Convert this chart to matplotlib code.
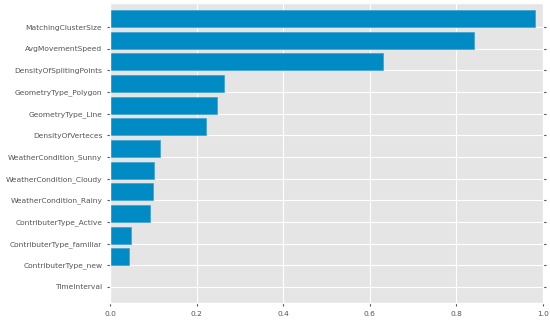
import numpy as np
import matplotlib
matplotlib.use('Agg')
import matplotlib.pyplot as plt

plt.style.use('ggplot')

# feature importances, bottom to top
features = ['TimeInterval', 'ContributerType_new', 'ContributerType_familiar',
            'ContributerType_Active', 'WeatherCondition_Rainy',
            'WeatherCondition_Cloudy', 'WeatherCondition_Sunny',
            'DensityOfVerteces', 'GeometryType_Line', 'GeometryType_Polygon',
            'DensityOfSplitingPoints', 'AvgMovementSpeed', 'MatchingClusterSize']
importance = [0.0, 0.043, 0.049, 0.092, 0.099, 0.102, 0.115,
              0.221, 0.247, 0.263, 0.630, 0.841, 0.982]
xticks = [0.0, 0.2, 0.4, 0.6, 0.8, 1.0]

fig = plt.figure(figsize=(5.5, 3.2), dpi=100)
ax = fig.add_axes([0.2, 0.053, 0.787, 0.937])

pos = np.arange(len(features))
ax.barh(pos, importance, height=0.78, align='edge', color='#008BC5',
        edgecolor='#3a9fd0', linewidth=0.5)
ax.set_yticks(pos)
ax.set_yticklabels(features)
ax.set_xticks(xticks)
ax.set_xlim(0, 1.0)
ax.set_ylim(-0.75, 13.1)
ax.tick_params(labelsize=5.4, colors='#555555', length=2)
ax.tick_params(axis='y', right=True)

fig.savefig('out.png', dpi=100)
